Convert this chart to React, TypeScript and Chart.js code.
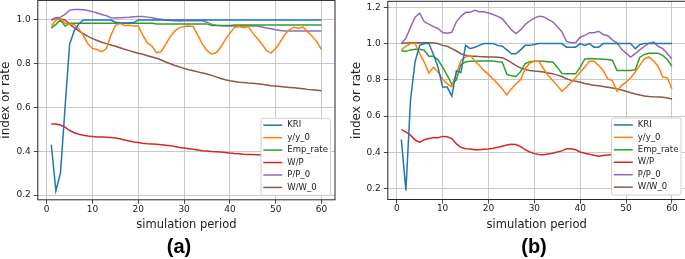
import React, { useEffect, useRef } from "react";
import { Chart, registerables } from "chart.js";

Chart.register(...registerables);

// ---------- data ----------
const periods = [
  1, 2, 3, 4, 5, 6, 7, 8, 9, 10, 11, 12, 13, 14, 15, 16, 17, 18, 19, 20,
  21, 22, 23, 24, 25, 26, 27, 28, 29, 30, 31, 32, 33, 34, 35, 36, 37, 38, 39, 40,
  41, 42, 43, 44, 45, 46, 47, 48, 49, 50, 51, 52, 53, 54, 55, 56, 57, 58, 59, 60,
];
const xTicks = [0, 10, 20, 30, 40, 50, 60];
const yTicksA = [0.2, 0.4, 0.6, 0.8, 1.0];
const yTicksB = [0.2, 0.4, 0.6, 0.8, 1.0, 1.2];
const seriesNames = ["KRI", "y/y_0", "Emp_rate", "W/P", "P/P_0", "W/W_0"];
const seriesColors = ["#1f77b4", "#ff7f0e", "#2ca02c", "#d62728", "#9467bd", "#8c564b"];
const xTitle = "simulation period";
const yTitle = "index or rate";

// panel (a)
const kriA = [
  0.43, 0.22, 0.30, 0.60, 0.89, 0.95, 0.982, 1.0, 1.0, 1.0,
  1.0, 1.0, 1.0, 1.0, 0.99, 0.987, 0.986, 0.986, 0.988, 1.0,
  1.0, 1.0, 1.0, 1.0, 1.0, 1.0, 1.0, 1.0, 1.0, 1.0,
  1.0, 1.0, 1.0, 1.0, 1.0, 1.0, 1.0, 1.0, 1.0, 1.0,
  1.0, 1.0, 1.0, 1.0, 1.0, 1.0, 1.0, 1.0, 1.0, 1.0,
  1.0, 1.0, 1.0, 1.0, 1.0, 1.0, 1.0, 1.0, 1.0, 1.0,
];
const yyA = [
  0.97, 1.0, 1.005, 0.985, 0.98, 0.978, 0.96, 0.93, 0.89, 0.87,
  0.865, 0.855, 0.868, 0.93, 0.975, 0.985, 0.975, 0.976, 0.973, 0.972,
  0.93, 0.895, 0.88, 0.85, 0.855, 0.89, 0.925, 0.95, 0.965, 0.97,
  0.972, 0.97, 0.93, 0.89, 0.86, 0.845, 0.85, 0.875, 0.91, 0.94,
  0.965, 0.97, 0.965, 0.97, 0.94, 0.915, 0.89, 0.86, 0.85, 0.87,
  0.90, 0.935, 0.955, 0.967, 0.962, 0.967, 0.945, 0.925, 0.90, 0.865,
];
const empA = [
  0.962, 0.98, 1.0, 0.972, 0.985, 0.985, 0.985, 0.985, 0.985, 0.985,
  0.985, 0.985, 0.985, 0.985, 0.985, 0.985, 0.985, 0.985, 0.985, 0.985,
  0.985, 0.985, 0.985, 0.982, 0.982, 0.982, 0.982, 0.982, 0.982, 0.982,
  0.982, 0.982, 0.982, 0.982, 0.982, 0.975, 0.975, 0.975, 0.975, 0.975,
  0.977, 0.977, 0.977, 0.977, 0.977, 0.977, 0.977, 0.977, 0.977, 0.977,
  0.977, 0.977, 0.977, 0.977, 0.977, 0.977, 0.977, 0.977, 0.977, 0.977,
];
const wpA = [
  0.525, 0.525, 0.52, 0.51, 0.495, 0.485, 0.478, 0.473, 0.47, 0.468,
  0.466, 0.465, 0.464, 0.463, 0.461, 0.457, 0.452, 0.447, 0.443, 0.44,
  0.437, 0.435, 0.434, 0.432, 0.43, 0.428, 0.426, 0.422, 0.418, 0.415,
  0.412, 0.409, 0.406, 0.403, 0.401, 0.399, 0.398, 0.397, 0.395, 0.392,
  0.39, 0.389, 0.387, 0.386, 0.385, 0.384, 0.383, 0.382, 0.381, 0.38,
  0.379, 0.378, 0.377, 0.376, 0.375, 0.374, 0.374, 0.373, 0.372, 0.372,
];
const ppA = [
  1.0, 1.01, 1.013, 1.025, 1.045, 1.048, 1.048, 1.047, 1.043, 1.038,
  1.032, 1.025, 1.02, 1.01, 1.009, 1.01, 1.011, 1.012, 1.015, 1.016,
  1.016, 1.013, 1.01, 1.006, 1.003, 1.0, 0.998, 0.996, 0.995, 0.996,
  0.997, 0.997, 0.997, 0.996, 0.99, 0.98, 0.976, 0.974, 0.973, 0.972,
  0.972, 0.972, 0.972, 0.972, 0.972, 0.972, 0.968, 0.963, 0.96, 0.955,
  0.952, 0.95, 0.95, 0.95, 0.95, 0.95, 0.95, 0.95, 0.95, 0.95,
];
const wwA = [
  1.0, 1.01, 1.005, 1.0, 0.98, 0.965, 0.95, 0.937, 0.925, 0.915,
  0.906, 0.898, 0.892, 0.886, 0.88, 0.873, 0.866, 0.86, 0.854, 0.848,
  0.843, 0.837, 0.831, 0.825, 0.817, 0.808, 0.8, 0.792, 0.785, 0.779,
  0.773, 0.768, 0.763, 0.758, 0.753, 0.747, 0.74, 0.733, 0.727, 0.722,
  0.719, 0.716, 0.714, 0.712, 0.711, 0.709, 0.706, 0.703, 0.70, 0.698,
  0.696, 0.694, 0.692, 0.69, 0.688, 0.686, 0.683, 0.681, 0.679, 0.677,
];

// panel (b)
const kriB = [
  0.47, 0.19, 0.69, 0.90, 0.99, 1.0, 1.0, 0.94, 0.87, 0.76,
  0.76, 0.71, 0.85, 0.84, 0.99, 0.972, 0.98, 0.99, 1.0, 1.0,
  1.0, 0.99, 0.985, 0.965, 0.944, 0.944, 0.965, 0.99, 0.99, 0.995,
  1.0, 1.0, 1.0, 1.0, 1.0, 1.0, 0.98, 0.98, 0.98, 1.0,
  0.99, 1.0, 0.98, 0.98, 1.0, 1.0, 1.0, 1.0, 1.0, 1.0,
  1.0, 0.972, 0.994, 1.0, 1.0, 1.0, 1.0, 1.0, 1.0, 1.0,
];
const yyB = [
  0.965, 0.985, 1.0, 1.0, 0.944, 0.898, 0.837, 0.87, 0.843, 0.805,
  0.778, 0.763, 0.833, 0.907, 0.926, 0.935, 0.904, 0.88, 0.852, 0.83,
  0.805, 0.778, 0.75, 0.717, 0.75, 0.778, 0.80, 0.861, 0.893, 0.902,
  0.902, 0.861, 0.824, 0.796, 0.768, 0.737, 0.759, 0.787, 0.811, 0.843,
  0.87, 0.902, 0.902, 0.88, 0.852, 0.805, 0.796, 0.737, 0.768, 0.787,
  0.811, 0.843, 0.88, 0.917, 0.926, 0.904, 0.874, 0.815, 0.811, 0.75,
];
const empB = [
  0.96, 0.957, 0.965, 0.968, 0.968, 0.963, 0.93, 0.93, 0.91, 0.87,
  0.825, 0.775, 0.80, 0.885, 0.898, 0.902, 0.903, 0.904, 0.904, 0.904,
  0.904, 0.90, 0.898, 0.83, 0.822, 0.818, 0.845, 0.89, 0.90, 0.902,
  0.902, 0.902, 0.90, 0.898, 0.87, 0.835, 0.833, 0.833, 0.833, 0.87,
  0.915, 0.917, 0.916, 0.915, 0.914, 0.912, 0.908, 0.852, 0.852, 0.852,
  0.852, 0.855, 0.925, 0.94, 0.946, 0.947, 0.946, 0.935, 0.912, 0.874,
];
const wpB = [
  0.525, 0.513, 0.495, 0.468, 0.455, 0.47, 0.476, 0.48, 0.481, 0.488,
  0.486, 0.476, 0.447, 0.428, 0.42, 0.419, 0.414, 0.415, 0.417, 0.419,
  0.423, 0.428, 0.434, 0.44, 0.444, 0.443, 0.432, 0.415, 0.402, 0.393,
  0.388, 0.387, 0.391, 0.395, 0.402, 0.408, 0.42, 0.42, 0.414, 0.402,
  0.395, 0.389, 0.384, 0.378, 0.383, 0.386, 0.388, 0.39, 0.392, 0.395,
  0.398, 0.40, 0.40, 0.398, 0.395, 0.392, 0.39, 0.388, 0.386, 0.385,
];
const ppB = [
  1.0, 1.03, 1.09, 1.145, 1.168, 1.12, 1.107, 1.093, 1.083, 1.061,
  1.057, 1.062, 1.12, 1.15, 1.172, 1.172, 1.183, 1.176, 1.175, 1.168,
  1.16, 1.15, 1.137, 1.107, 1.075, 1.055, 1.075, 1.105, 1.125, 1.14,
  1.15, 1.148, 1.133, 1.12, 1.093, 1.065, 1.012, 1.004, 1.004, 1.035,
  1.045, 1.06, 1.06, 1.068, 1.05, 1.043, 1.02, 1.004, 0.97, 0.946,
  0.925, 0.944, 0.965, 0.985, 1.002, 1.008, 0.985, 0.972, 0.945, 0.913,
];
const wwB = [
  1.0, 1.003, 1.005, 1.005, 1.005, 1.005, 1.005, 1.003, 1.0, 0.99,
  0.985, 0.972, 0.959, 0.944, 0.935, 0.931, 0.93, 0.928, 0.927, 0.926,
  0.926, 0.925, 0.922, 0.91, 0.895, 0.878, 0.866, 0.857, 0.852, 0.848,
  0.846, 0.843, 0.838, 0.834, 0.826, 0.818, 0.806, 0.797, 0.792, 0.787,
  0.78, 0.774, 0.77, 0.767, 0.763, 0.759, 0.755, 0.75, 0.744, 0.737,
  0.729, 0.722, 0.716, 0.711, 0.708, 0.706, 0.705, 0.704, 0.70, 0.694,
];

const panelA = [kriA, yyA, empA, wpA, ppA, wwA];
const panelB = [kriB, yyB, empB, wpB, ppB, wwB];

// ---------- styling ----------
const FONT = "'DejaVu Sans', sans-serif";
const TEXT = "#222222";

type Geo = {
  canvasW: number;
  yAxisW: number;
  padRight: number;
  padTop: number;
  padBottom: number;
  xAxisH: number;
  yTitlePad: number;
  yMin: number;
  yMax: number;
  yTicks: number[];
  label: string;
  labelX: number;
};

const frameAndLegend = (geo: Geo) => ({
  id: "frameAndLegend",
  afterDatasetsDraw(chart: any) {
    const { ctx, chartArea } = chart;
    const { left, right, top, bottom } = chartArea;
    ctx.save();
    // spines
    ctx.strokeStyle = "#262626";
    ctx.lineWidth = 1;
    ctx.strokeRect(left, top, right - left, bottom - top);

    // legend (lower right, inside)
    const boxW = 69.5;
    const boxH = 77;
    const bx = right - 4.5 - boxW;
    const by = bottom - 4.5 - boxH;
    const r = 2;
    ctx.beginPath();
    ctx.moveTo(bx + r, by);
    ctx.lineTo(bx + boxW - r, by);
    ctx.quadraticCurveTo(bx + boxW, by, bx + boxW, by + r);
    ctx.lineTo(bx + boxW, by + boxH - r);
    ctx.quadraticCurveTo(bx + boxW, by + boxH, bx + boxW - r, by + boxH);
    ctx.lineTo(bx + r, by + boxH);
    ctx.quadraticCurveTo(bx, by + boxH, bx, by + boxH - r);
    ctx.lineTo(bx, by + r);
    ctx.quadraticCurveTo(bx, by, bx + r, by);
    ctx.closePath();
    ctx.fillStyle = "rgba(255,255,255,0.96)";
    ctx.fill();
    ctx.strokeStyle = "#d0d0d0";
    ctx.lineWidth = 1;
    ctx.stroke();

    ctx.font = `8.5px ${FONT}`;
    ctx.textBaseline = "middle";
    ctx.textAlign = "left";
    chart.data.datasets.forEach((ds: any, i: number) => {
      const y = by + 6.9 + i * 12.45;
      ctx.strokeStyle = ds.borderColor;
      ctx.lineWidth = 1.5;
      ctx.beginPath();
      ctx.moveTo(bx + 2.3, y);
      ctx.lineTo(bx + 21.3, y);
      ctx.stroke();
      ctx.fillStyle = TEXT;
      ctx.fillText(ds.label, bx + 26.3, y);
    });

    // panel label
    ctx.font = `bold 20px 'Liberation Sans', Arial, sans-serif`;
    ctx.fillStyle = "#000";
    ctx.textAlign = "center";
    ctx.textBaseline = "alphabetic";
    ctx.fillText(geo.label, geo.labelX, 253);
    ctx.restore();
  },
});

function buildConfig(series: number[][], geo: Geo): any {
  return {
    type: "line",
    data: {
      labels: periods,
      datasets: series.map((values, i) => ({
        label: seriesNames[i],
        data: values.map((v, j) => ({ x: periods[j], y: v })),
        borderColor: seriesColors[i],
        backgroundColor: seriesColors[i],
        borderWidth: 1.5,
        pointRadius: 0,
        tension: 0,
        fill: false,
      })),
    },
    options: {
      responsive: false,
      animation: false,
      devicePixelRatio: 1,
      layout: {
        padding: { left: 0, right: geo.padRight, top: geo.padTop, bottom: geo.padBottom },
      },
      plugins: { legend: { display: false }, tooltip: { enabled: false } },
      scales: {
        x: {
          type: "linear",
          min: -1.95,
          max: 62.95,
          afterBuildTicks: (axis: any) => {
            axis.ticks = xTicks.map((v) => ({ value: v }));
          },
          afterFit: (axis: any) => {
            axis.height = geo.xAxisH;
            axis.paddingLeft = 0;
            axis.paddingRight = 0;
            axis.paddingTop = 0;
            axis.paddingBottom = 0;
          },
          ticks: {
            autoSkip: false,
            maxRotation: 0,
            padding: 0,
            color: TEXT,
            font: { family: FONT, size: 9 },
            callback: (v: any) => String(v),
          },
          grid: { color: "#c4c4c4", lineWidth: 0.9, tickColor: "#333333", tickLength: 4 },
          border: { display: false },
          title: {
            display: true,
            text: xTitle,
            color: TEXT,
            font: { family: FONT, size: 11.5, lineHeight: 1.2 },
            padding: { top: 0, bottom: 0 },
          },
        },
        y: {
          type: "linear",
          min: geo.yMin,
          max: geo.yMax,
          afterBuildTicks: (axis: any) => {
            axis.ticks = geo.yTicks.map((v) => ({ value: v }));
          },
          afterFit: (axis: any) => {
            axis.width = geo.yAxisW;
            axis.paddingLeft = 0;
            axis.paddingRight = 0;
            axis.paddingTop = 0;
            axis.paddingBottom = 0;
          },
          ticks: {
            autoSkip: false,
            padding: 3,
            color: TEXT,
            font: { family: FONT, size: 9 },
            callback: (v: any) => Number(v).toFixed(1),
          },
          grid: { color: "#c4c4c4", lineWidth: 0.9, tickColor: "#333333", tickLength: 4 },
          border: { display: false },
          title: {
            display: true,
            text: yTitle,
            color: TEXT,
            font: { family: FONT, size: 12, lineHeight: 0.95 },
            padding: { top: geo.yTitlePad, bottom: 0 },
          },
        },
      },
    },
    plugins: [frameAndLegend(geo)],
  };
}

const geoA: Geo = {
  canvasW: 340,
  yAxisW: 37.8,
  padRight: 5,
  padTop: 0.4,
  padBottom: 27.1,
  xAxisH: 32.1,
  yTitlePad: 0,
  yMin: 0.1786,
  yMax: 1.0894,
  yTicks: yTicksA,
  label: "(a)",
  labelX: 179,
};

const geoB: Geo = {
  canvasW: 350,
  yAxisW: 47.8,
  padRight: 4.5,
  padTop: 1.3,
  padBottom: 27.4,
  xAxisH: 32.1,
  yTitlePad: 11,
  yMin: 0.14,
  yMax: 1.233,
  yTicks: yTicksB,
  label: "(b)",
  labelX: 194,
};

function Panel({ series, geo, left }: { series: number[][]; geo: Geo; left: number }) {
  const ref = useRef<HTMLCanvasElement | null>(null);
  useEffect(() => {
    if (!ref.current) return;
    const chart = new Chart(ref.current, buildConfig(series, geo));
    return () => chart.destroy();
  }, [series, geo]);
  return (
    <canvas
      ref={ref}
      width={geo.canvasW}
      height={259}
      style={{ position: "absolute", left, top: 0, width: geo.canvasW, height: 259, display: "block" }}
    />
  );
}

export default function App() {
  return (
    <div
      style={{
        position: "absolute",
        left: 0,
        top: 0,
        width: 685,
        height: 259,
        overflow: "hidden",
        background: "#ffffff",
      }}
    >
      <Panel series={panelA} geo={geoA} left={0} />
      <Panel series={panelB} geo={geoB} left={340} />
    </div>
  );
}
